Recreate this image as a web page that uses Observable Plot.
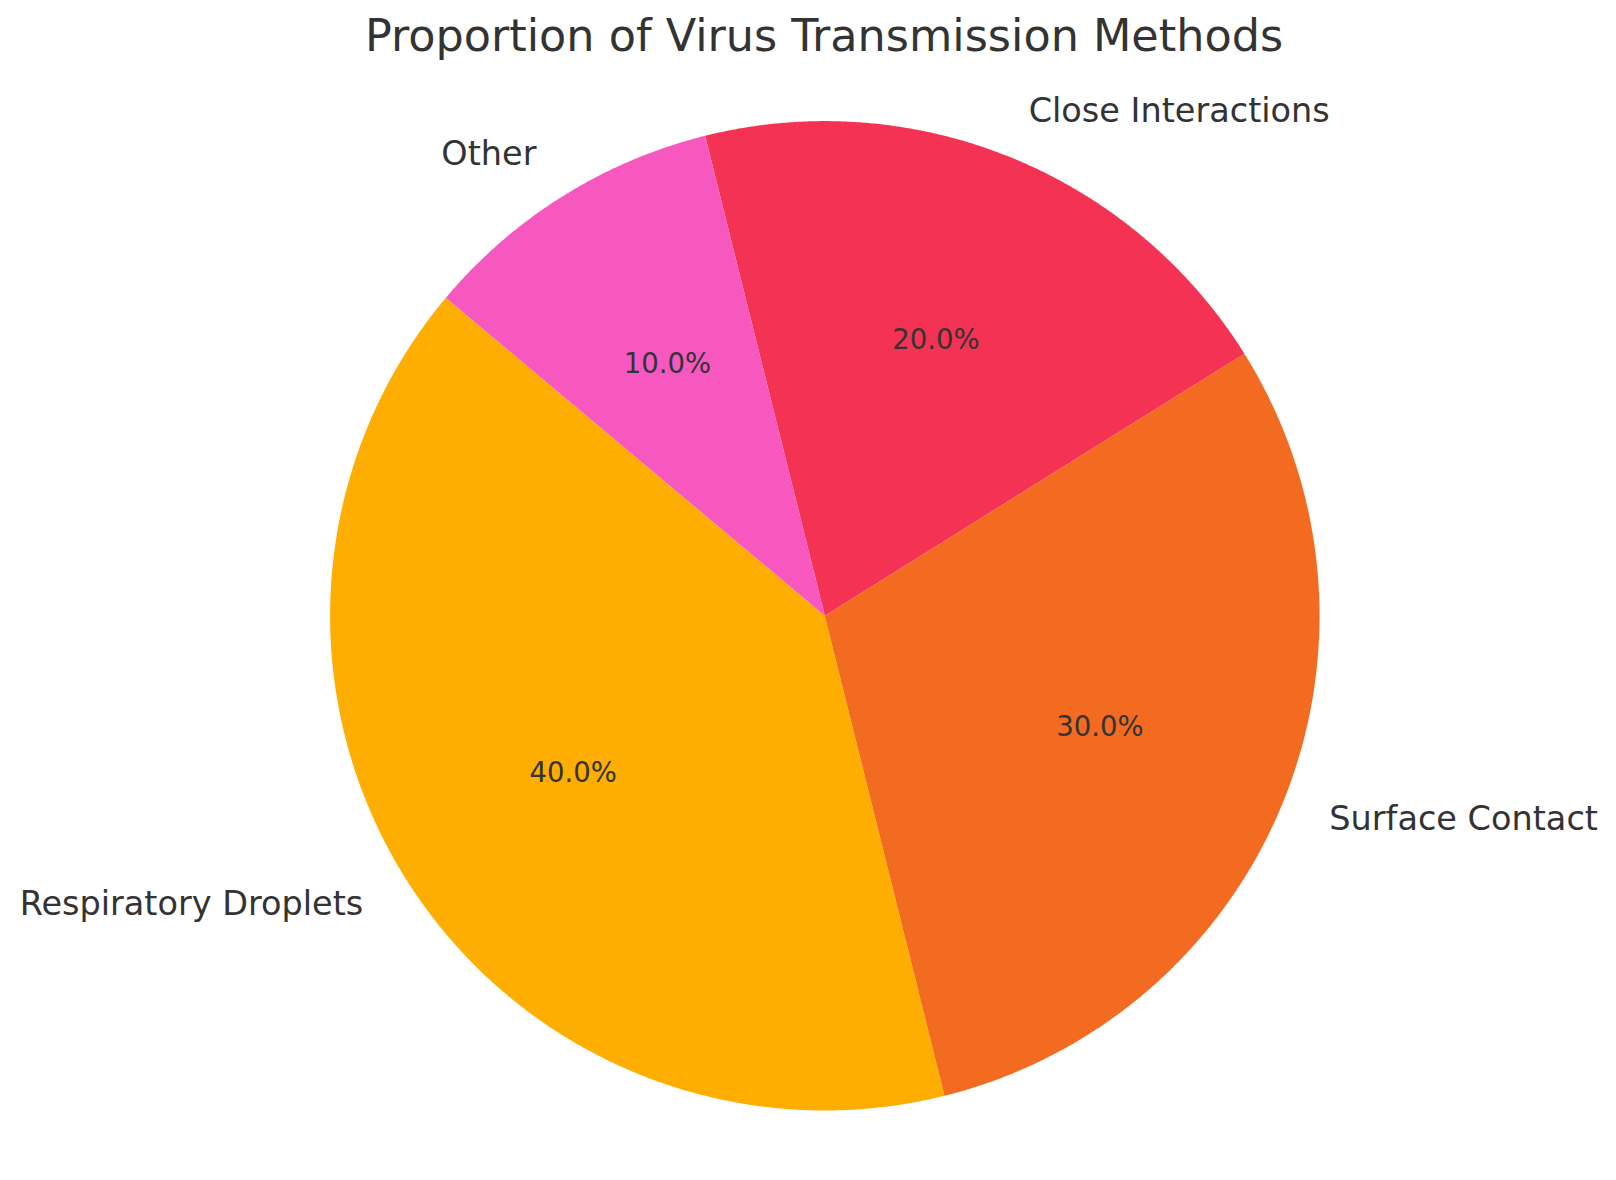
<!DOCTYPE html>
<html>
<head>
<meta charset="utf-8">
<script src="https://cdn.jsdelivr.net/npm/d3@7"></script>
<script src="https://cdn.jsdelivr.net/npm/@observablehq/plot@0.6"></script>
<style>
  html, body { margin: 0; padding: 0; background: #fff; }
  #title { box-sizing: border-box; height: 80px; padding-top: 15px; padding-left: 32px;
           line-height: 42px; font-size: 44.5px;
           font-family: "DejaVu Sans", sans-serif; color: #333333; text-align: center;
           width: 1616px; white-space: nowrap; }
  #chart svg { display: block; }
</style>
</head>
<body>
<div id="title">Proportion of Virus Transmission Methods</div>
<div id="chart"></div>
<script>
const categories = ["Respiratory Droplets", "Surface Contact", "Close Interactions", "Other"];
const shares = [40, 30, 20, 10];
const colors = ["#FEAE00", "#F26B21", "#F43254", "#F758C0"];
const startAngle = 140; // degrees, counterclockwise like matplotlib

const total = d3.sum(shares);
const slices = [];
let a0 = startAngle;
categories.forEach((c, i) => {
  const span = shares[i] / total * 360;
  slices.push({category: c, value: shares[i], a0, a1: a0 + span, mid: a0 + span / 2});
  a0 += span;
});

const rad = d => d * Math.PI / 180;
const wedgePts = [];
for (const s of slices) {
  wedgePts.push({category: s.category, x: 0, y: 0});
  const n = Math.ceil((s.a1 - s.a0) / 0.25);
  for (let k = 0; k <= n; k++) {
    const a = rad(s.a0 + (s.a1 - s.a0) * k / n);
    wedgePts.push({category: s.category, x: Math.cos(a), y: Math.sin(a)});
  }
  wedgePts.push({category: s.category, x: 0, y: 0});
}

const labels = slices.map(s => ({
  category: s.category,
  x: 1.1 * Math.cos(rad(s.mid)), y: 1.1 * Math.sin(rad(s.mid)),
  px: 0.6 * Math.cos(rad(s.mid)), py: 0.6 * Math.sin(rad(s.mid)),
  pct: (s.value / total * 100).toFixed(1) + "%"
}));

const W = 1616, H = 1100, R = 494.7, cx = 824.3, cy = 535.3;
const plot = Plot.plot({
  width: W, height: H,
  margin: 0,
  x: {domain: [-cx / R, (W - cx) / R], axis: null},
  y: {domain: [-(H - cy) / R, cy / R], axis: null},
  color: {domain: categories, range: colors},
  style: {fontFamily: "DejaVu Sans, sans-serif", background: "#fff"},
  marks: [
    Plot.line(wedgePts, {x: "x", y: "y", z: "category", fill: "category", stroke: null, curve: "linear"}),
    Plot.text(labels, {x: "px", y: "py", text: "pct", fill: "#333333", fontSize: 27.5, textAnchor: "middle"}),
    Plot.text(labels.filter(d => d.x >= 0), {x: "x", y: "y", text: "category", fill: "#333333", fontSize: 33.5, textAnchor: "start"}),
    Plot.text(labels.filter(d => d.x < 0), {x: "x", y: "y", text: "category", fill: "#333333", fontSize: 33.5, textAnchor: "end"})
  ]
});
document.getElementById("chart").appendChild(plot);
</script>
</body>
</html>
